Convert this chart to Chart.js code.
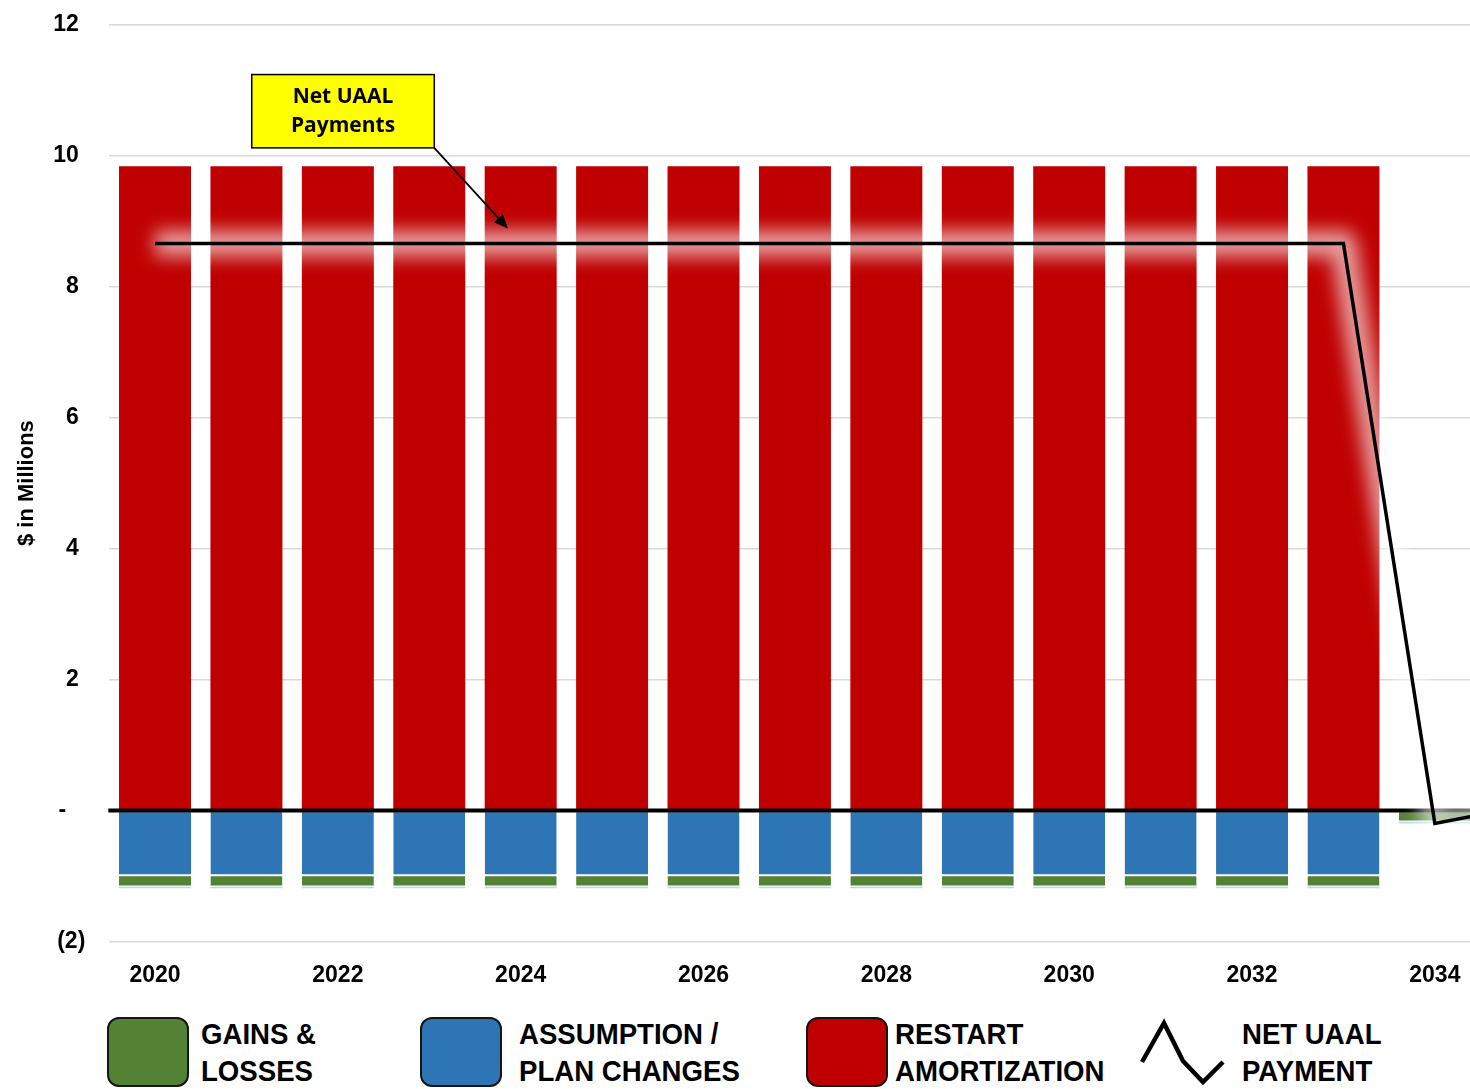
<!DOCTYPE html>
<html>
<head>
<meta charset="utf-8">
<script src="https://cdn.jsdelivr.net/npm/chart.js@4/dist/chart.umd.min.js"></script>
<style>
  html, body { margin: 0; padding: 0; background: #fff; overflow: hidden; }
  #wrap { position: relative; width: 1470px; height: 1089px; overflow: hidden; }
  #chartBox { position: absolute; left: 0; top: -13px; width: 1572px; height: 1022px; }
  .nf { font-family: 'Liberation Sans', Arial, sans-serif; font-weight: bold; }
  .lg-box { position: absolute; top: 1017px; width: 78px; height: 66px; border: 2px solid #151515; border-radius: 12px; }
  .lg-text { position: absolute; top: 1015px; font-size: 30px; line-height: 37px; color: #000; white-space: nowrap;
             transform: scaleX(0.92); transform-origin: 0 0; }
</style>
</head>
<body>
<div id="wrap">
  <div id="chartBox"><canvas id="c" width="1572" height="1022"></canvas></div>
  <div class="lg-box" style="left:107px;background:#548235"></div>
  <div class="lg-text nf" style="left:201px">GAINS &amp;<br>LOSSES</div>
  <div class="lg-box" style="left:420px;background:#2E75B6"></div>
  <div class="lg-text nf" style="left:519px">ASSUMPTION /<br>PLAN CHANGES</div>
  <div class="lg-box" style="left:806px;background:#C00000"></div>
  <div class="lg-text nf" style="left:895px">RESTART<br>AMORTIZATION</div>
  <svg style="position:absolute;left:1130px;top:1010px" width="110" height="79">
    <polyline points="12,52 34,13 53,51 73,72 93,52" fill="none" stroke="#000" stroke-width="4.5" stroke-linejoin="miter"/>
  </svg>
  <div class="lg-text nf" style="left:1242px">NET UAAL<br>PAYMENT</div>
</div>
<script>
// ---- data ----
const years = ['2020','2021','2022','2023','2024','2025','2026','2027','2028','2029','2030','2031','2032','2033','2034','2035'];
const assumptionChanges = [-0.99,-0.99,-0.99,-0.99,-0.99,-0.99,-0.99,-0.99,-0.99,-0.99,-0.99,-0.99,-0.99,-0.99, 0, 0];
const gainsLosses       = [-0.17,-0.17,-0.17,-0.17,-0.17,-0.17,-0.17,-0.17,-0.17,-0.17,-0.17,-0.17,-0.17,-0.17,-0.17,-0.05];
const otherSliver       = [-0.03,-0.03,-0.03,-0.03,-0.03,-0.03,-0.03,-0.03,-0.03,-0.03,-0.03,-0.03,-0.03,-0.03,-0.03,-0.02];
const restartAmort      = [9.84,9.84,9.84,9.84,9.84,9.84,9.84,9.84,9.84,9.84,9.84,9.84,9.84,9.84, 0, 0];
const netUaalPayment    = [8.66,8.66,8.66,8.66,8.66,8.66,8.66,8.66,8.66,8.66,8.66,8.66,8.66,8.66,-0.20,0.07];
const yTicks = [-2,0,2,4,6,8,10,12];
const noteLines = ['Net UAAL', 'Payments'];
const noteBox = { x0: 1.058, x1: 3.055, yTop: 11.24, yBottom: 10.12 };
const noteTip = { x: 3.86, y: 8.89 };

const AXFONT = "'Liberation Sans', Arial, sans-serif";

function tickLabel(v) {
  if (v < 0) return '(' + (-v) + ')';
  if (v === 0) return '-\u2007 ';
  return v + ' ';
}

const overlayPlugin = {
  id: 'overlay',
  beforeDatasetDraw(chart, args) {
    const ds = chart.data.datasets[args.index];
    if (ds.isGlow) {
      const ctx = chart.ctx;
      const y = chart.scales.y.getPixelForValue(0);
      ctx.save();
      ctx.beginPath();
      ctx.strokeStyle = '#000';
      ctx.lineWidth = 4;
      ctx.moveTo(chart.chartArea.left - 1, y);
      ctx.lineTo(chart.chartArea.right, y);
      ctx.stroke();
      ctx.restore();
      ctx.save();
      ctx.filter = 'blur(9px)';
    }
  },
  afterDatasetDraw(chart, args) {
    const ds = chart.data.datasets[args.index];
    if (ds.isGlow) chart.ctx.restore();
  },
  afterDraw(chart) {
    const ctx = chart.ctx, xs = chart.scales.x, ys = chart.scales.y;
    const l = xs.getPixelForValue(noteBox.x0), r = xs.getPixelForValue(noteBox.x1);
    const t = ys.getPixelForValue(noteBox.yTop), b = ys.getPixelForValue(noteBox.yBottom);
    const tx = xs.getPixelForValue(noteTip.x), ty = ys.getPixelForValue(noteTip.y);
    ctx.save();
    ctx.strokeStyle = '#000'; ctx.fillStyle = '#000'; ctx.lineWidth = 1.8;
    const ang = Math.atan2(ty - b, tx - r);
    const hl = 14, hw = 6;
    const bx = tx - hl * Math.cos(ang), by = ty - hl * Math.sin(ang);
    ctx.beginPath(); ctx.moveTo(r, b); ctx.lineTo(bx, by); ctx.stroke();
    ctx.beginPath();
    ctx.moveTo(tx, ty);
    ctx.lineTo(bx + hw * Math.sin(ang), by - hw * Math.cos(ang));
    ctx.lineTo(bx - hw * Math.sin(ang), by + hw * Math.cos(ang));
    ctx.closePath(); ctx.fill();
    ctx.fillStyle = '#FFFF00';
    ctx.fillRect(l, t, r - l, b - t);
    ctx.lineWidth = 1.5; ctx.strokeStyle = '#000';
    ctx.strokeRect(l, t, r - l, b - t);
    ctx.fillStyle = '#000';
    ctx.font = "bold 21px 'Open Sans', Lato, sans-serif";
    ctx.textAlign = 'center'; ctx.textBaseline = 'middle';
    const cx = (l + r) / 2, cy = (t + b) / 2;
    ctx.fillText(noteLines[0], cx, cy - 14.5);
    ctx.fillText(noteLines[1], cx, cy + 14.5);
    ctx.restore();
  }
};

const barCommon = { barPercentage: 0.7875, categoryPercentage: 1.0, stack: 's', type: 'bar', order: 3 };

new Chart(document.getElementById('c'), {
  data: {
    labels: years,
    datasets: [
      Object.assign({ label: 'ASSUMPTION / PLAN CHANGES', data: assumptionChanges, backgroundColor: '#2E75B6',
        borderColor: '#ffffff', borderWidth: { top: 1, bottom: 1, left: 0, right: 0 }, borderSkipped: false }, barCommon),
      Object.assign({ label: 'GAINS & LOSSES', data: gainsLosses, backgroundColor: '#548235',
        borderColor: '#ffffff', borderWidth: { top: 1, bottom: 1, left: 0, right: 0 }, borderSkipped: false }, barCommon),
      Object.assign({ label: 'other', data: otherSliver, backgroundColor: '#BDD7EE', borderWidth: 0 }, barCommon),
      Object.assign({ label: 'RESTART AMORTIZATION', data: restartAmort, backgroundColor: '#C00000', borderWidth: 0 }, barCommon),
      { type: 'line', label: 'glow', isGlow: true, stack: 'glow', data: netUaalPayment, borderColor: 'rgba(255,255,255,0.62)',
        borderWidth: 26, pointRadius: 0, tension: 0, fill: false, order: 2, borderJoinStyle: 'round' },
      { type: 'line', label: 'NET UAAL PAYMENT', stack: 'net', data: netUaalPayment, borderColor: '#000000',
        borderWidth: 3.5, pointRadius: 0, tension: 0, fill: false, order: 1, borderJoinStyle: 'miter' }
    ]
  },
  options: {
    responsive: false,
    animation: false,
    devicePixelRatio: 1,
    layout: { padding: { top: 10.5, bottom: 0, left: 0, right: 0 } },
    plugins: { legend: { display: false }, tooltip: { enabled: false } },
    scales: {
      x: {
        stacked: true,
        offset: true,
        grid: { display: false, drawTicks: false },
        border: { display: false },
        ticks: {
          autoSkip: false, maxRotation: 0, padding: 20, color: '#000',
          font: { family: AXFONT, size: 23, weight: 'bold' },
          callback: function (v, i) { return i % 2 === 0 ? years[i] : ''; }
        }
      },
      y: {
        stacked: true,
        min: -2, max: 12,
        afterBuildTicks(scale) { scale.ticks = yTicks.map(v => ({ value: v })); },
        afterFit(scale) { scale.width = 109.3; },
        grid: { color: '#D9D9D9', lineWidth: 1.5, drawTicks: false },
        border: { display: false },
        ticks: {
          padding: 24, color: '#000',
          font: { family: AXFONT, size: 23, weight: 'bold' },
          callback: function (v) { return tickLabel(v); }
        },
        title: {
          display: true, text: '$ in Millions', color: '#000',
          font: { family: AXFONT, size: 22, weight: 'bold' },
          padding: { top: 14, bottom: 0 }
        }
      }
    }
  },
  plugins: [overlayPlugin]
});
</script>
</body>
</html>
